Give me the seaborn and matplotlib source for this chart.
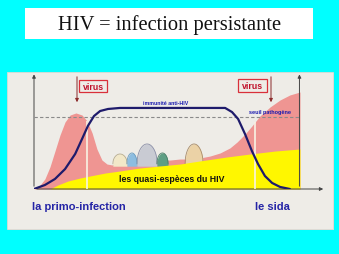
import numpy as np
import pandas as pd
import matplotlib
matplotlib.use("Agg")
import matplotlib.pyplot as plt
import seaborn as sns
from matplotlib.patches import Rectangle

sns.set_theme(style="white")
plt.rcParams['font.family'] = ['Liberation Sans', 'DejaVu Sans']

# ---------------- data (time 0..100, level 0..100) ----------------
pink_x = [0, 2.3, 4.1, 6.0, 7.9, 9.8, 11.7, 13.6, 15.8, 18.1, 20.0, 21.9, 23.7, 25.6, 27.5,
          29.4, 31.6, 33.9, 36.2, 39.9, 43.7, 47.5, 51.2, 55.0, 58.8, 62.5, 66.3, 70.1,
          73.8, 76.5, 79.5, 82.1, 85.1, 88.9, 92.7, 96.4, 100.2]
pink_y = [0, 3.5, 8.8, 19.3, 33.3, 47.4, 58.8, 64.9, 66.7, 64.9, 59.6, 49.1, 35.1, 25.4, 21.9,
          21.1, 22.8, 21.1, 22.8, 21.9, 23.7, 25.4, 25.4, 26.3, 26.3, 27.2, 28.9, 31.6,
          36.0, 41.2, 48.2, 55.3, 64.0, 71.9, 78.1, 82.5, 85.1]

yellow_x = [6.0, 9.0, 12.8, 17.3, 21.1, 26.8, 32.4, 39.9, 47.5, 55.0, 62.5, 72.7, 81.4, 90.8, 100.2]
yellow_y = [0, 3.5, 7.0, 9.6, 11.4, 14.0, 15.8, 18.4, 20.2, 21.9, 24.6, 28.1, 30.7, 33.3, 35.1]

immune_x = [0, 4.1, 7.9, 11.7, 15.5, 18.1, 20.3, 22.6, 24.9, 27.9, 32.4, 72.0, 74.6, 76.9,
            79.5, 82.1, 84.4, 87.0, 89.7, 92.7, 96.4]
immune_y = [0, 3.5, 8.8, 17.5, 30.7, 43.9, 55.3, 64.0, 68.4, 70.2, 71.1, 71.1, 67.5, 61.4,
            48.2, 33.3, 21.9, 11.4, 5.3, 1.8, 0]

threshold = 63.2
marker_x = [20.0, 83.3]

bump_center = [32.4, 36.9, 42.6, 48.4, 60.3]
bump_halfwidth = [2.7, 1.9, 3.8, 2.1, 3.4]
bump_top = [30.7, 31.6, 39.5, 31.6, 39.5]
bump_fill = ['#F2E8C8', '#8DBDE0', '#C9CBD3', '#5E9E84', '#EBD2A6']
bump_edge = ['#B8AC8C', '#6A9CC0', '#8C90A8', '#4A7E68', '#A88C6A']

title = "HIV = infection persistante"
virus_label = "virus"
immune_label = "immunité anti-HIV"
threshold_label = "seuil pathogène"
species_label = "les quasi-espèces du HIV"
phase_labels = ["la primo-infection", "le sida"]

# ---------------- figure ----------------
W, H = 339, 255
fig = plt.figure(figsize=(W / 100, H / 100), dpi=100, facecolor='#00FFFF')

bg = fig.add_axes([0, 0, 1, 1])
bg.set_xlim(0, W); bg.set_ylim(H, 0); bg.axis('off'); bg.set_zorder(0)
bg.patch.set_alpha(0)
bg.add_patch(Rectangle((25, 9), 288, 31, fc='white', ec='none'))
bg.add_patch(Rectangle((8, 74), 326, 157, fc='#D8D8D0', ec='none'))
bg.add_patch(Rectangle((7, 73), 326, 157, fc='#EEECE7', ec='#DCDAD4', lw=0.6))

ax = fig.add_axes([34 / W, (H - 190) / H, (326 - 34) / W, (190 - 76) / H])
ax.set_zorder(1)
ax.patch.set_alpha(0)
ax.set_xlim(0, 110); ax.set_ylim(0, 100)
ax.axis('off')

ax.fill_between(pink_x, 0, pink_y, color='#EF9592', lw=0, zorder=1)

base = 22.0
for c, hw, top, fc, ec in zip(bump_center, bump_halfwidth, bump_top, bump_fill, bump_edge):
    xs = np.linspace(c - hw, c + hw, 50)
    ys = base + (top - base) * np.sqrt(np.clip(1 - ((xs - c) / hw) ** 2, 0, 1))
    ax.fill_between(xs, base - 2, ys, color=fc, lw=0, zorder=2)
    ax.plot(xs, ys, color=ec, lw=0.6, zorder=2)

ax.fill_between(yellow_x, 0, yellow_y, color='#FFF700', lw=0, zorder=3)

for mx in marker_x:
    ax.vlines(mx, 0, np.interp(mx, pink_x, pink_y), color='#F8F3E4', lw=1.2, zorder=4)

thr = pd.DataFrame({'t': [0, 100], 'v': [threshold, threshold]})
sns.lineplot(data=thr, x='t', y='v', ax=ax, color='#8A8A8A', lw=0.8,
             linestyle=(0, (3, 2)), zorder=5)

imm = pd.DataFrame({'t': immune_x, 'v': immune_y})
sns.lineplot(data=imm, x='t', y='v', ax=ax, color='#1E1B6B', lw=1.6, sort=False, zorder=6)
ax.set_xlim(0, 110); ax.set_ylim(0, 100)
ax.axis('off')

arrow_kw = dict(arrowstyle='-|>', color='#444444', lw=0.7, mutation_scale=5)
ax.annotate('', xy=(0, 103), xytext=(0, 0), arrowprops=arrow_kw, annotation_clip=False)
ax.annotate('', xy=(100, 103), xytext=(100, 0), arrowprops=arrow_kw, annotation_clip=False)
ax.annotate('', xy=(110, 0), xytext=(0, 0), arrowprops=arrow_kw, annotation_clip=False)

# ---------------- overlay (pixel coordinates) ----------------
ov = fig.add_axes([0, 0, 1, 1])
ov.set_xlim(0, W); ov.set_ylim(H, 0); ov.axis('off'); ov.set_zorder(3)
ov.patch.set_alpha(0)

ov.text(169.5, 25, title, family=['Liberation Serif', 'DejaVu Serif'], fontsize=14.8,
        ha='center', va='center', color='#111111')

red_arrow = dict(arrowstyle='-|>', color='#8B2A2A', lw=0.7, mutation_scale=5)
for (bx, by, bw, bh), axx in zip([(79, 81, 28, 12), (238, 80, 29, 13)], [77, 271]):
    ov.add_patch(Rectangle((bx, by), bw, bh, fc='none', ec='#D9303A', lw=0.9))
    ov.text(bx + bw / 2 + 0.5, by + bh / 2 + 0.3, virus_label, fontsize=6.3, fontweight='bold',
            color='#C0102A', ha='center', va='center')
    ov.annotate('', xy=(axx, 106), xytext=(axx, 75), arrowprops=red_arrow)

ov.text(166, 104, immune_label, fontsize=3.8, fontweight='bold', color='#1A1AB0',
        ha='center', va='center')
ov.text(270, 113, threshold_label, fontsize=4, fontweight='bold', color='#1A1AB0',
        ha='center', va='center')
ov.text(172, 180, species_label, fontsize=6.3, fontweight='bold', color='#111111',
        ha='center', va='center')
ov.text(32, 207, phase_labels[0], fontsize=8, fontweight='bold', color='#2424A6',
        ha='left', va='center')
ov.text(255, 207, phase_labels[1], fontsize=8, fontweight='bold', color='#2424A6',
        ha='left', va='center')

fig.savefig('out.png', dpi=100, facecolor=fig.get_facecolor())
